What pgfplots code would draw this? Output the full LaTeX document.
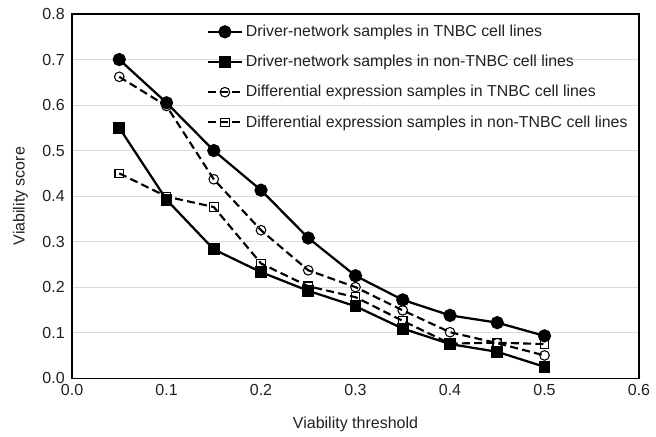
\documentclass[border=0pt]{standalone}
\usepackage{pgfplots}
\pgfplotsset{compat=1.18}
\usepackage{fontspec}
\setmainfont{Liberation Sans}

\definecolor{txt}{HTML}{231F20}
\definecolor{gridc}{HTML}{DADADA}

\begin{document}
\begin{tikzpicture}
\begin{axis}[
    scale only axis,
    width=425pt,
    height=273pt,
    xmin=0, xmax=0.6,
    ymin=0, ymax=0.8,
    xtick={0,0.1,...,0.6},
    ytick={0,0.1,...,0.8},
    major tick length=0pt,
    ymajorgrids,
    major grid style={gridc, line width=0.6pt},
    axis line style={black, line width=0.9pt},
    /pgf/number format/assume math mode=true,
    /pgf/number format/fixed,
    /pgf/number format/fixed zerofill,
    /pgf/number format/precision=1,
    ticklabel style={font=\fontsize{12}{14}\selectfont, text=txt},
    yticklabel style={xshift=-2pt},
    xticklabel style={yshift=-1pt},
    xlabel={Viability threshold},
    ylabel={Viability score},
    label style={font=\fontsize{12}{14}\selectfont, text=txt},
    xlabel style={yshift=-9pt},
    ylabel style={yshift=4pt},
    legend style={at={(0.23,0.985)}, anchor=north west, draw=none, fill=none,
        font=\fontsize{11.9}{14}\selectfont, text=txt, row sep=8.5pt,
        cells={anchor=west}},
    legend cell align=left,
    legend image code/.code={
        \draw[mark repeat=2,mark phase=2,#1]
            plot coordinates {(0cm,0cm) (0.45cm,0cm) (0.9cm,0cm)};
    },
]
\addplot[black, line width=1.7pt, mark=*, mark size=4.1pt] coordinates {
  (0.05,0.700) (0.10,0.605) (0.15,0.500) (0.20,0.413) (0.25,0.308)
  (0.30,0.225) (0.35,0.172) (0.40,0.138) (0.45,0.122) (0.50,0.093)
};
\addlegendentry{Driver-network samples in TNBC cell lines}

\addplot[black, line width=1.7pt, mark=square*, mark size=3.6pt] coordinates {
  (0.05,0.550) (0.10,0.392) (0.15,0.283) (0.20,0.233) (0.25,0.192)
  (0.30,0.158) (0.35,0.109) (0.40,0.075) (0.45,0.058) (0.50,0.025)
};
\addlegendentry{Driver-network samples in non-TNBC cell lines}

\addplot[black, line width=1.6pt, dash pattern=on 6pt off 3.2pt, mark=o, mark size=3.6pt,
    mark options={solid, line width=0.8pt}] coordinates {
  (0.05,0.662) (0.10,0.598) (0.15,0.437) (0.20,0.325) (0.25,0.237)
  (0.30,0.200) (0.35,0.149) (0.40,0.101) (0.45,0.077) (0.50,0.050)
};
\addlegendentry{Differential expression samples in TNBC cell lines}

\addplot[black, line width=1.6pt, dash pattern=on 6pt off 3.2pt, mark=square, mark size=3.2pt,
    mark options={solid, line width=0.8pt}] coordinates {
  (0.05,0.450) (0.10,0.399) (0.15,0.376) (0.20,0.252) (0.25,0.202)
  (0.30,0.178) (0.35,0.126) (0.40,0.076) (0.45,0.078) (0.50,0.075)
};
\addlegendentry{Differential expression samples in non-TNBC cell lines}
\end{axis}
\pgfresetboundingbox
\path[use as bounding box] ([xshift=-54pt,yshift=-43.5pt]current axis.south west)
  rectangle ([xshift=12.75pt,yshift=10.5pt]current axis.north east);
\end{tikzpicture}
\end{document}
